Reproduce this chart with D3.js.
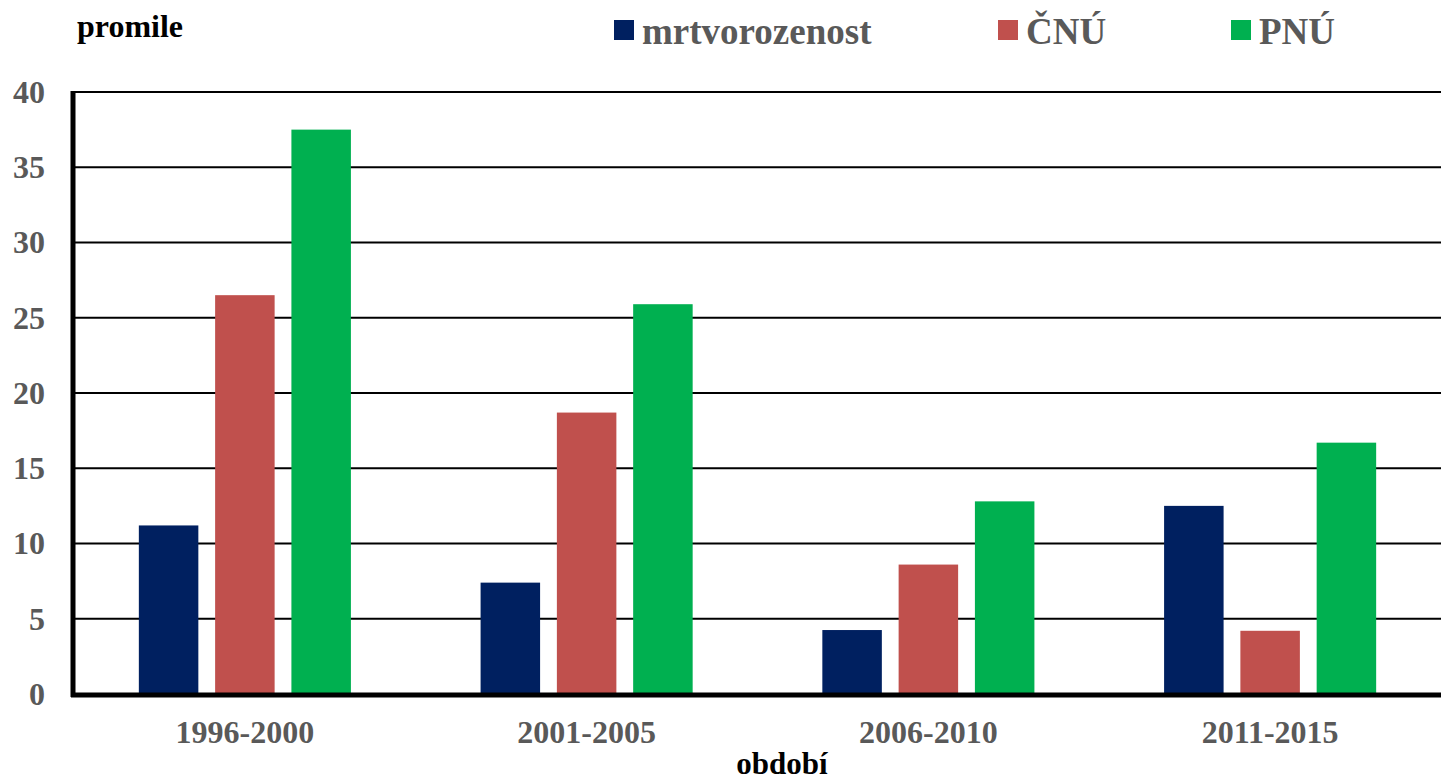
<!DOCTYPE html>
<html>
<head>
<meta charset="utf-8">
<script src="https://cdn.jsdelivr.net/npm/d3@7"></script>
<style>
  body { margin: 0; background: #fff; }
  text { font-family: "Liberation Serif", "Times New Roman", serif; font-weight: bold; }
</style>
</head>
<body>
<div id="chart"></div>
<script>
const periods = ['1996-2000', '2001-2005', '2006-2010', '2011-2015'];
const seriesNames = ['mrtvorozenost', 'ČNÚ', 'PNÚ'];
const mrtvorozenost = [11.2, 7.4, 4.25, 12.5];
const cnu = [26.5, 18.7, 8.6, 4.2];
const pnu = [37.5, 25.9, 12.8, 16.7];
const seriesColors = ['#002060', '#C0504D', '#00B050'];
const yTicks = [0, 5, 10, 15, 20, 25, 30, 35, 40];

const width = 1441;
const height = 780;
const margin = {top: 92, right: 0, bottom: 86, left: 74};

const svg = d3.select('#chart')
  .append('svg')
  .attr('width', width)
  .attr('height', height);

const rows = periods.map((p, i) => ({
  period: p,
  values: [mrtvorozenost[i], cnu[i], pnu[i]]
}));

const x0 = d3.scaleBand()
  .domain(periods)
  .range([margin.left, width - margin.right])
  .padding(0);

const x1 = d3.scaleBand()
  .domain(seriesNames)
  .range([0, x0.bandwidth()])
  .paddingInner(0.22)
  .paddingOuter(0.85);

const y = d3.scaleLinear()
  .domain([0, 40])
  .range([height - margin.bottom, margin.top]);

// gridlines
svg.append('g')
  .selectAll('line')
  .data(yTicks.filter(d => d > 0))
  .enter()
  .append('line')
  .attr('x1', margin.left)
  .attr('x2', width - margin.right)
  .attr('y1', d => y(d))
  .attr('y2', d => y(d))
  .attr('stroke', '#000')
  .attr('stroke-width', 2);

// bars
const groups = svg.append('g')
  .selectAll('g')
  .data(rows)
  .enter()
  .append('g')
  .attr('transform', d => 'translate(' + x0(d.period) + ',0)');

groups.selectAll('rect')
  .data(d => d.values.map((v, i) => ({name: seriesNames[i], value: v, color: seriesColors[i]})))
  .enter()
  .append('rect')
  .attr('x', d => x1(d.name))
  .attr('y', d => y(d.value))
  .attr('width', x1.bandwidth())
  .attr('height', d => y(0) - y(d.value))
  .attr('fill', d => d.color);

// axes
const yAxis = d3.axisLeft(y).tickValues(yTicks).tickSize(0).tickPadding(28);
svg.append('g')
  .attr('transform', 'translate(' + (margin.left - 1) + ',0)')
  .call(yAxis)
  .call(g => g.select('.domain').remove())
  .selectAll('text')
  .attr('fill', '#595959')
  .style('font-size', '32px');

const xAxis = d3.axisBottom(x0).tickSize(0).tickPadding(26);
svg.append('g')
  .attr('transform', 'translate(0,' + y(0) + ')')
  .call(xAxis)
  .call(g => g.select('.domain').remove())
  .selectAll('text')
  .attr('fill', '#595959')
  .style('font-size', '32px');

svg.append('line')
  .attr('x1', margin.left - 1)
  .attr('x2', margin.left - 1)
  .attr('y1', y(40) - 1)
  .attr('y2', y(0) + 3)
  .attr('stroke', '#000')
  .attr('stroke-width', 5);

svg.append('line')
  .attr('x1', margin.left - 3)
  .attr('x2', width - margin.right)
  .attr('y1', y(0) + 1)
  .attr('y2', y(0) + 1)
  .attr('stroke', '#000')
  .attr('stroke-width', 5);

// titles
svg.append('text')
  .attr('x', 77)
  .attr('y', 37)
  .attr('fill', '#000')
  .style('font-size', '32px')
  .text('promile');

svg.append('text')
  .attr('x', 782)
  .attr('y', 774)
  .attr('text-anchor', 'middle')
  .attr('fill', '#000')
  .style('font-size', '31px')
  .text('období');

// legend
const legendX = [614, 998, 1231];
const legend = svg.append('g');
const items = legend.selectAll('g')
  .data(seriesNames)
  .enter()
  .append('g')
  .attr('transform', (d, i) => 'translate(' + legendX[i] + ',20)');

items.append('rect')
  .attr('width', 20)
  .attr('height', 20)
  .attr('fill', (d, i) => seriesColors[i]);

items.append('text')
  .attr('x', 28)
  .attr('y', 24)
  .attr('fill', '#595959')
  .style('font-size', '37px')
  .text(d => d);
</script>
</body>
</html>
